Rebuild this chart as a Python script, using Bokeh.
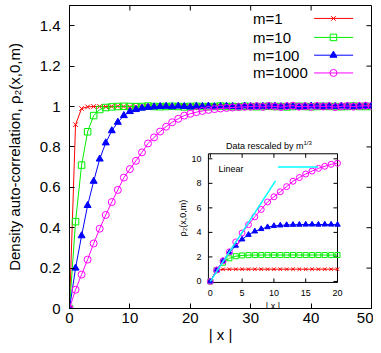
import math
from bokeh.plotting import figure
from bokeh.models import Range1d, FixedTicker, CustomJSTickFormatter
from bokeh.core.properties import value
from bokeh.embed import file_html
from bokeh.resources import INLINE

# ---------------- data ----------------
x_vals = list(range(51))
series_labels = ["m=1", "m=10", "m=100", "m=1000"]
series_m = [1, 10, 100, 1000]

rho_m1 = [0.0, 0.91, 0.99, 0.998, 1.0, 1.0, 0.999, 1.0, 1.001, 1.0,
          0.999, 1.0, 1.0, 1.001, 1.0, 0.999, 1.0, 1.0, 1.0, 1.001,
          1.0, 0.999, 1.0, 1.0, 1.001, 1.0, 1.0, 0.999, 1.0, 1.0,
          1.001, 1.0, 0.999, 1.0, 1.0, 1.0, 1.001, 1.0, 0.999, 1.0,
          1.0, 1.001, 1.0, 1.0, 0.999, 1.0, 1.0, 1.001, 1.0, 1.0,
          1.0]
rho_m10 = [0.0, 0.43, 0.71, 0.875, 0.955, 0.985, 0.995, 0.998, 1.0, 1.001,
           1.0, 0.999, 1.0, 1.002, 1.0, 0.999, 1.0, 1.001, 1.0, 0.998,
           1.0, 1.001, 1.0, 0.999, 1.0, 1.002, 1.0, 1.0, 0.999, 1.001,
           1.0, 0.999, 1.0, 1.001, 1.0, 1.0, 0.998, 1.0, 1.001, 1.0,
           0.999, 1.0, 1.001, 1.0, 1.0, 0.999, 1.0, 1.002, 1.0, 1.0,
           1.0]
rho_m100 = [0.0, 0.20, 0.36, 0.51, 0.63, 0.74, 0.82, 0.88, 0.922, 0.955,
            0.975, 0.985, 0.992, 0.996, 0.998, 1.0, 1.001, 0.999, 1.002, 1.0,
            0.998, 1.001, 1.0, 1.002, 0.999, 1.0, 1.001, 1.0, 0.998, 1.002,
            1.0, 0.999, 1.001, 1.0, 1.002, 0.999, 1.0, 1.001, 0.998, 1.0,
            1.002, 1.0, 0.999, 1.001, 1.0, 1.002, 0.999, 1.0, 1.001, 1.0,
            1.002]
rho_m1000 = [0.0, 0.093, 0.168, 0.242, 0.322, 0.395, 0.463, 0.527, 0.587, 0.648,
             0.69, 0.731, 0.773, 0.817, 0.847, 0.876, 0.90, 0.922, 0.939, 0.955,
             0.964, 0.972, 0.978, 0.983, 0.987, 0.99, 0.993, 0.995, 0.997, 0.998,
             0.999, 1.002, 0.998, 1.003, 1.0, 0.997, 1.002, 1.004, 0.999, 1.001,
             0.998, 1.003, 1.0, 1.002, 0.997, 1.001, 1.003, 0.999, 1.002, 1.004,
             1.003]
series_values = [rho_m1, rho_m10, rho_m100, rho_m1000]

linear_x = [0.0, 10.25]
linear_y = [0.0, 8.2]

main_xticks = [0, 10, 20, 30, 40, 50]
main_yticks = [0, 0.2, 0.4, 0.6, 0.8, 1.0, 1.2, 1.4]
inset_xticks = [0, 5, 10, 15, 20]
inset_yticks = [0, 2, 4, 6, 8, 10]
inset_xmax = 20

# ---------------- styles ----------------
colors = ["#ff0000", "#00ee00", "#0000ff", "#ff00ff"]
markers = ["x", "square", "triangle", "circle"]
fills = [None, None, "#0000ff", None]
main_sizes = [6.5, 6.5, 7, 7]
inset_sizes = [5, 5, 5.5, 6]
FONT = value("Liberation Sans")

X0, X1 = 0, 50
Y0, Y1 = 0, 1.5

p = figure(width=373, height=345, x_range=Range1d(X0, X1), y_range=Range1d(Y0, Y1),
           output_backend="svg", toolbar_location=None,
           min_border_left=69, min_border_right=2, min_border_top=5, min_border_bottom=0)
p.background_fill_color = "white"
p.border_fill_color = "white"
p.outline_line_color = "black"
p.outline_line_width = 1
p.xgrid.visible = False
p.ygrid.visible = False

fmt = CustomJSTickFormatter(code="return Number(tick.toFixed(2)).toString();")
for ax, ticks in ((p.xaxis[0], main_xticks), (p.yaxis[0], main_yticks)):
    ax.ticker = FixedTicker(ticks=ticks)
    ax.formatter = fmt
    ax.major_tick_in = 5
    ax.major_tick_out = 0
    ax.minor_tick_in = 0
    ax.minor_tick_out = 0
    ax.axis_line_color = "black"
    ax.major_tick_line_color = "black"
    ax.major_label_text_font = "Liberation Sans"
    ax.major_label_text_font_size = "15px"
    ax.major_label_text_color = "black"
    ax.axis_label_text_font = "Liberation Sans"
    ax.axis_label_text_font_size = "15px"
    ax.axis_label_text_font_style = "normal"
    ax.axis_label_text_color = "black"
p.xaxis.axis_label = "| x |"
p.xaxis.major_label_standoff = 4
p.xaxis.axis_label_standoff = 0
p.yaxis.axis_label = "Density auto-correlation, ρ₂(x,0,m)"
p.yaxis.major_label_standoff = 9
p.yaxis.axis_label_standoff = 14

# mirrored inward ticks on top and right
p.ray(x=main_xticks, y=[Y1] * len(main_xticks), length=5, length_units="screen",
      angle=-math.pi / 2, line_color="black", line_width=1)
p.ray(x=[X1] * len(main_yticks), y=main_yticks, length=5, length_units="screen",
      angle=math.pi, line_color="black", line_width=1)

# main series
for vals, c, mk, fc, sz in zip(series_values, colors, markers, fills, main_sizes):
    p.line(x_vals, vals, line_color=c, line_width=1)
    p.scatter(x_vals, vals, marker=mk, size=sz, line_color=c, fill_color=fc, line_width=1)

# main legend (label left, sample right)
leg_text_x = 30.4
leg_line_x = 40.5
leg_mark_x = 43.7
leg_y = [1.436, 1.342, 1.254, 1.166]
p.text(x=[leg_text_x] * 4, y=leg_y, text=series_labels, text_font=FONT,
       text_font_size="15px", text_align="left", text_baseline="middle", text_color="black")
for yy, c, mk, fc, sz in zip(leg_y, colors, markers, fills, main_sizes):
    p.ray(x=[leg_line_x], y=[yy], length=39, length_units="screen", angle=0,
          line_color=c, line_width=1)
    p.scatter([leg_mark_x], [yy], marker=mk, size=sz, line_color=c, fill_color=fc, line_width=1)

# ---------------- inset (drawn through extra ranges) ----------------
box_x0, box_x1 = 23.0, 44.37     # inset frame position in main coords
box_y0, box_y1 = 0.129, 0.766
ix_lo, ix_hi = -0.3, 20.0
iy_lo, iy_hi = -0.08, 10.41
sx = (ix_hi - ix_lo) / (box_x1 - box_x0)
sy = (iy_hi - iy_lo) / (box_y1 - box_y0)
p.extra_x_ranges = {"ix": Range1d(ix_lo - (box_x0 - X0) * sx, ix_hi + (X1 - box_x1) * sx)}
p.extra_y_ranges = {"iy": Range1d(iy_lo - (box_y0 - Y0) * sy, iy_hi + (Y1 - box_y1) * sy)}
R = dict(x_range_name="ix", y_range_name="iy")

p.quad(left=[ix_lo], right=[ix_hi], bottom=[iy_lo], top=[iy_hi],
       fill_color="white", line_color="black", line_width=1, **R)
# inset ticks (inward, mirrored)
nx, ny = len(inset_xticks), len(inset_yticks)
p.ray(x=inset_xticks, y=[iy_lo] * nx, length=4, length_units="screen", angle=math.pi / 2,
      line_color="black", **R)
p.ray(x=inset_xticks, y=[iy_hi] * nx, length=4, length_units="screen", angle=-math.pi / 2,
      line_color="black", **R)
p.ray(x=[ix_lo] * ny, y=inset_yticks, length=4, length_units="screen", angle=0,
      line_color="black", **R)
p.ray(x=[ix_hi] * ny, y=inset_yticks, length=4, length_units="screen", angle=math.pi,
      line_color="black", **R)
p.text(x=inset_xticks, y=[iy_lo] * nx, text=[str(t) for t in inset_xticks], text_font=FONT,
       text_font_size="9px", text_align="center", text_baseline="top", y_offset=8,
       text_color="black", **R)
p.text(x=[ix_lo] * ny, y=inset_yticks, text=[str(t) for t in inset_yticks], text_font=FONT,
       text_font_size="9px", text_align="right", text_baseline="middle", x_offset=-7,
       text_color="black", **R)
p.text(x=[(ix_lo + ix_hi) / 2], y=[iy_lo], text=["| x |"], text_font=FONT,
       text_font_size="9px", text_align="center", text_baseline="top", y_offset=19,
       text_color="black", **R)
p.text(x=[ix_lo], y=[(iy_lo + iy_hi) / 2], text=["ρ₂(x,0,m)"], text_font=FONT,
       text_font_size="9px", text_align="center", text_baseline="middle", x_offset=-25,
       angle=math.pi / 2, text_color="black", **R)
# inset title with superscript
p.text(x=[ix_hi], y=[iy_hi], text=["Data rescaled by m"], text_font=FONT,
       text_font_size="9px", text_align="right", text_baseline="bottom",
       x_offset=-34, y_offset=-3, text_color="black", **R)
p.text(x=[ix_hi], y=[iy_hi], text=["1/3"], text_font=FONT,
       text_font_size="6px", text_align="left", text_baseline="bottom",
       x_offset=-34, y_offset=-8, text_color="black", **R)

inset_x = x_vals[:inset_xmax + 1]
for vals, m, c, mk, fc, sz in zip(series_values, series_m, colors, markers, fills, inset_sizes):
    scale = m ** (1.0 / 3.0)
    iy = [v * scale for v in vals[:inset_xmax + 1]]
    p.line(inset_x, iy, line_color=c, line_width=1, **R)
    p.scatter(inset_x, iy, marker=mk, size=sz, line_color=c, fill_color=fc, line_width=1, **R)

# linear guide + its key
p.line(linear_x, linear_y, line_color="#00ffff", line_width=1.5, **R)
p.text(x=[ix_lo], y=[iy_hi], text=["Linear"], text_font=FONT, text_font_size="9px",
       text_align="left", text_baseline="middle", x_offset=10, y_offset=15,
       text_color="black", **R)
p.ray(x=[10.65], y=[9.34], length=40, length_units="screen", angle=0,
      line_color="#00ffff", line_width=1.5, **R)

open("out.html", "w").write(file_html(p, INLINE))
